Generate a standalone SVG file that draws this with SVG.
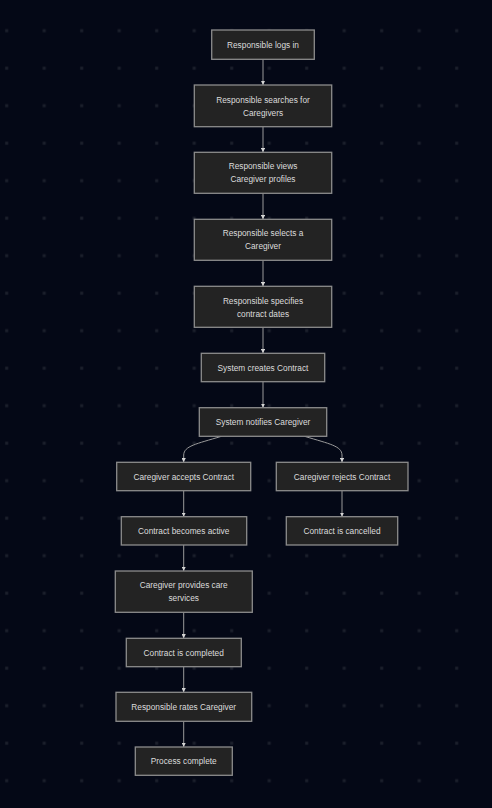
<svg xmlns="http://www.w3.org/2000/svg" width="492" height="808" viewBox="0 0 492 808">
<defs>
<pattern id="dots" patternUnits="userSpaceOnUse" x="0" y="0" width="37.5" height="37.5">
<rect x="5.2" y="29.2" width="3" height="3" fill="#1b1f2b"/>
</pattern>
<marker id="arr" viewBox="0 0 10 10" refX="10" refY="5" markerWidth="4.2" markerHeight="4.2" markerUnits="userSpaceOnUse" orient="auto">
<path d="M0,0 L10,5 L0,10 z" fill="#d4d4d4"/>
</marker>
<style>
.n rect{fill:#232323;stroke:#8c8c8c;stroke-width:1.3}
.n text{font-family:"Liberation Sans",Arial,sans-serif;font-size:8.3px;fill:#dcdcdc;text-anchor:middle;dominant-baseline:central}
.e path{fill:none;stroke:#9a9a9a;stroke-width:1;marker-end:url(#arr)}
</style>
</defs>
<rect width="492" height="808" fill="#040816"/>
<rect width="492" height="808" fill="url(#dots)"/>
<g class="e" id="edges">
<path d="M263,59.3 L263,85"/>
<path d="M263,126.7 L263,152.3"/>
<path d="M263,193.3 L263,219.3"/>
<path d="M263,260.3 L263,286.3"/>
<path d="M263,327.3 L263,353.3"/>
<path d="M263,381.7 L263,407.7"/>
<path d="M221.5,436.3 C196,444 184,446 183.7,455 L183.7,462.3"/>
<path d="M304.5,436.3 C330,444 341.7,446 342,455 L342,462.3"/>
<path d="M183.7,490.7 L183.7,516.7"/>
<path d="M342,490.7 L342,516.7"/>
<path d="M183.7,545 L183.7,571"/>
<path d="M183.7,612.3 L183.7,638.3"/>
<path d="M183.7,666.7 L183.7,692.3"/>
<path d="M183.7,721.3 L183.7,747"/>
</g>
<g class="n" id="n1"><rect x="211.7" y="30" width="102.6" height="29.3"/><text x="263" y="44.6">Responsible logs in</text></g>
<g class="n" id="n2"><rect x="194.3" y="85" width="137.4" height="41.7"/><text x="263" y="100">Responsible searches for</text><text x="263" y="112.7">Caregivers</text></g>
<g class="n" id="n3"><rect x="194.3" y="152.3" width="137.4" height="41"/><text x="263" y="166.3">Responsible views</text><text x="263" y="179.3">Caregiver profiles</text></g>
<g class="n" id="n4"><rect x="194.3" y="219.3" width="137.4" height="41"/><text x="263" y="233.3">Responsible selects a</text><text x="263" y="246.3">Caregiver</text></g>
<g class="n" id="n5"><rect x="194.3" y="286.3" width="137.4" height="41"/><text x="263" y="301.3">Responsible specifies</text><text x="263" y="313.5">contract dates</text></g>
<g class="n" id="n6"><rect x="201.3" y="353.3" width="123.4" height="28.4"/><text x="263" y="367.6">System creates Contract</text></g>
<g class="n" id="n7"><rect x="199.3" y="407.7" width="127.4" height="28.6"/><text x="263" y="422">System notifies Caregiver</text></g>
<g class="n" id="n8"><rect x="116.7" y="462.3" width="134" height="28.4"/><text x="183.7" y="476.6">Caregiver accepts Contract</text></g>
<g class="n" id="n9"><rect x="276.3" y="462.3" width="131.7" height="28.4"/><text x="342" y="476.6">Caregiver rejects Contract</text></g>
<g class="n" id="n10"><rect x="121.3" y="516.7" width="125.4" height="28.3"/><text x="183.7" y="530.9">Contract becomes active</text></g>
<g class="n" id="n11"><rect x="286.3" y="516.7" width="111.4" height="28.3"/><text x="342" y="530.9">Contract is cancelled</text></g>
<g class="n" id="n12"><rect x="115.3" y="571" width="137" height="41.3"/><text x="183.7" y="585.3">Caregiver provides care</text><text x="183.7" y="598">services</text></g>
<g class="n" id="n13"><rect x="126.3" y="638.3" width="115" height="28.4"/><text x="183.7" y="652.5">Contract is completed</text></g>
<g class="n" id="n14"><rect x="116" y="692.3" width="135.7" height="29"/><text x="183.7" y="706.8">Responsible rates Caregiver</text></g>
<g class="n" id="n15"><rect x="135.3" y="747" width="97" height="28.3"/><text x="183.7" y="761.2">Process complete</text></g>
</svg>
